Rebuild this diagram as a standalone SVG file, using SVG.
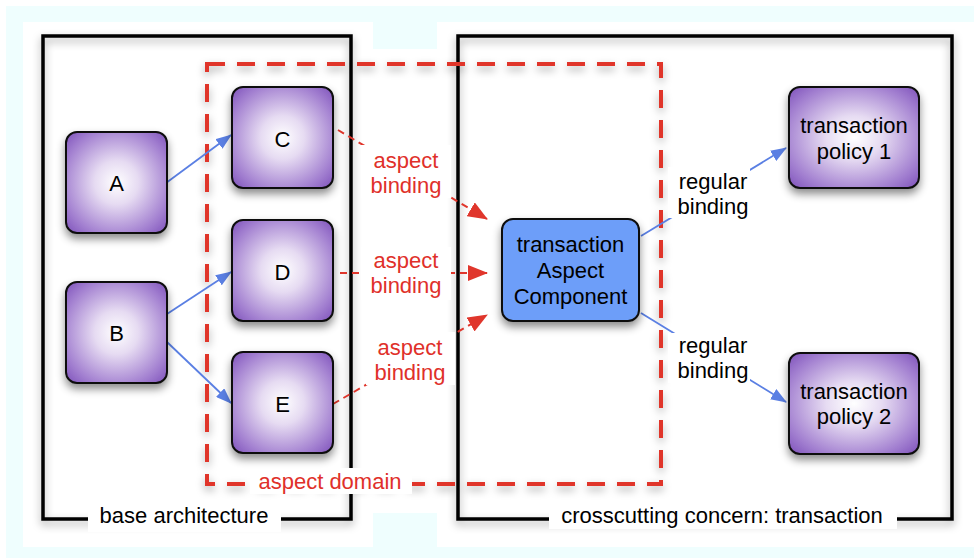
<svg xmlns="http://www.w3.org/2000/svg" width="974" height="558" viewBox="0 0 974 558">
<defs>
<radialGradient id="purple" cx="0.5" cy="0.5" r="0.72">
<stop offset="0" stop-color="#ffffff"/>
<stop offset="0.3" stop-color="#e6dbf2"/>
<stop offset="0.75" stop-color="#a27fd0"/>
<stop offset="1" stop-color="#7a4cb8"/>
</radialGradient>
<filter id="sh" x="-20%" y="-20%" width="140%" height="150%">
<feDropShadow dx="0" dy="5" stdDeviation="4" flood-color="#000" flood-opacity="0.45"/>
</filter>
<filter id="fsh" x="-10%" y="-10%" width="120%" height="120%">
<feDropShadow dx="0" dy="4" stdDeviation="4" flood-color="#000" flood-opacity="0.35"/>
</filter>
<marker id="blueArrow" markerWidth="16" markerHeight="12" refX="15" refY="6" orient="auto" markerUnits="userSpaceOnUse">
<path d="M0,0 L16,6 L0,12 Z" fill="#5a7fe3"/>
</marker>
<marker id="redArrow" markerWidth="20" markerHeight="16" refX="19" refY="8" orient="auto" markerUnits="userSpaceOnUse">
<path d="M0,0 L20,8 L0,16 Z" fill="#e0362c"/>
</marker>
</defs>
<style>
.frame{fill:none;stroke:#000;stroke-width:3.5}
.node{stroke:#111;stroke-width:2}
.purple{fill:url(#purple)}
.blue{fill:#6d9ef9}
.t{font-family:"Liberation Sans",Arial,Helvetica,sans-serif;font-size:22px;text-anchor:middle;fill:#000}
.r{fill:#e0302a}
.lbl{fill:#fff}
.bl{fill:none;stroke:#5a7fe3;stroke-width:1.8}
.rd{fill:none;stroke:#e0362c;stroke-width:2;stroke-dasharray:7 5}
</style>
<!-- background -->
<rect x="0" y="0" width="974" height="558" fill="#ffffff"/>
<rect x="6" y="6" width="968" height="552" fill="#effefe"/>
<path d="M23,22 H373 V49 H437 V22 H974 V547 H437 V513 H373 V547 H23 Z" fill="#ffffff"/>

<!-- frames -->
<g id="base-architecture">
<rect class="frame" x="43" y="36" width="308" height="483" filter="url(#fsh)"/>
<rect class="lbl" x="88" y="505" width="193" height="27"/>
<text class="t" x="184" y="523">base architecture</text>
</g>
<g id="crosscutting-concern">
<rect class="frame" x="458" y="36" width="494" height="483" filter="url(#fsh)"/>
<rect class="lbl" x="549" y="503" width="348" height="26"/>
<text class="t" x="722" y="523">crosscutting concern: transaction</text>
</g>

<!-- aspect domain -->
<g id="aspect-domain">
<rect x="207" y="64" width="454" height="420" fill="none" stroke="#e0362c" stroke-width="4" stroke-dasharray="18 12" filter="url(#fsh)"/>
<rect class="lbl" x="250" y="468" width="162" height="26"/>
<text class="t r" x="330" y="489">aspect domain</text>
</g>

<!-- connectors -->
<g id="connectors">
<line class="bl" x1="166" y1="183" x2="231" y2="135" marker-end="url(#blueArrow)"/>
<line class="bl" x1="167" y1="314" x2="231" y2="272" marker-end="url(#blueArrow)"/>
<line class="bl" x1="167" y1="342" x2="231" y2="403" marker-end="url(#blueArrow)"/>
<line class="rd" x1="338" y1="130" x2="487" y2="219" marker-end="url(#redArrow)"/>
<line class="rd" x1="340" y1="273" x2="487" y2="273" marker-end="url(#redArrow)"/>
<line class="rd" x1="333" y1="404" x2="487" y2="315" marker-end="url(#redArrow)"/>
<line class="bl" x1="641" y1="236" x2="786" y2="148" marker-end="url(#blueArrow)"/>
<line class="bl" x1="641" y1="313" x2="786" y2="402" marker-end="url(#blueArrow)"/>
<rect class="lbl" x="361" y="145" width="90" height="53"/>
<text class="t r" x="406" y="168">aspect</text>
<text class="t r" x="406" y="193">binding</text>
<rect class="lbl" x="361" y="247" width="90" height="53"/>
<text class="t r" x="406" y="268">aspect</text>
<text class="t r" x="406" y="293">binding</text>
<rect class="lbl" x="366" y="332" width="89" height="53"/>
<text class="t r" x="410" y="355">aspect</text>
<text class="t r" x="410" y="380">binding</text>
<rect class="lbl" x="668" y="167" width="82" height="51"/>
<text class="t" x="713" y="189">regular</text>
<text class="t" x="713" y="214">binding</text>
<rect class="lbl" x="668" y="333" width="82" height="50"/>
<text class="t" x="713" y="353">regular</text>
<text class="t" x="713" y="378">binding</text>
</g>

<!-- nodes -->
<g id="A"><rect class="node purple" x="66" y="132" width="101" height="101" rx="11" filter="url(#sh)"/><text class="t" x="116.5" y="191">A</text></g>
<g id="B"><rect class="node purple" x="66" y="282" width="101" height="101" rx="11" filter="url(#sh)"/><text class="t" x="116.5" y="341">B</text></g>
<g id="C"><rect class="node purple" x="232" y="87" width="101" height="101" rx="11" filter="url(#sh)"/><text class="t" x="282.5" y="147">C</text></g>
<g id="D"><rect class="node purple" x="232" y="220" width="101" height="101" rx="11" filter="url(#sh)"/><text class="t" x="282.5" y="280">D</text></g>
<g id="E"><rect class="node purple" x="232" y="352" width="101" height="101" rx="11" filter="url(#sh)"/><text class="t" x="282.5" y="412">E</text></g>
<g id="transaction-aspect-component"><rect class="node blue" x="502" y="219" width="137" height="102" rx="11" filter="url(#sh)"/>
<text class="t" x="570.5" y="252">transaction</text><text class="t" x="570.5" y="278">Aspect</text><text class="t" x="570.5" y="304">Component</text></g>
<g id="transaction-policy-1"><rect class="node purple" x="789" y="87" width="130" height="101" rx="11" filter="url(#sh)"/>
<text class="t" x="854" y="133">transaction</text><text class="t" x="854" y="159">policy 1</text></g>
<g id="transaction-policy-2"><rect class="node purple" x="789" y="353" width="130" height="101" rx="11" filter="url(#sh)"/>
<text class="t" x="854" y="399">transaction</text><text class="t" x="854" y="424">policy 2</text></g>
</svg>
